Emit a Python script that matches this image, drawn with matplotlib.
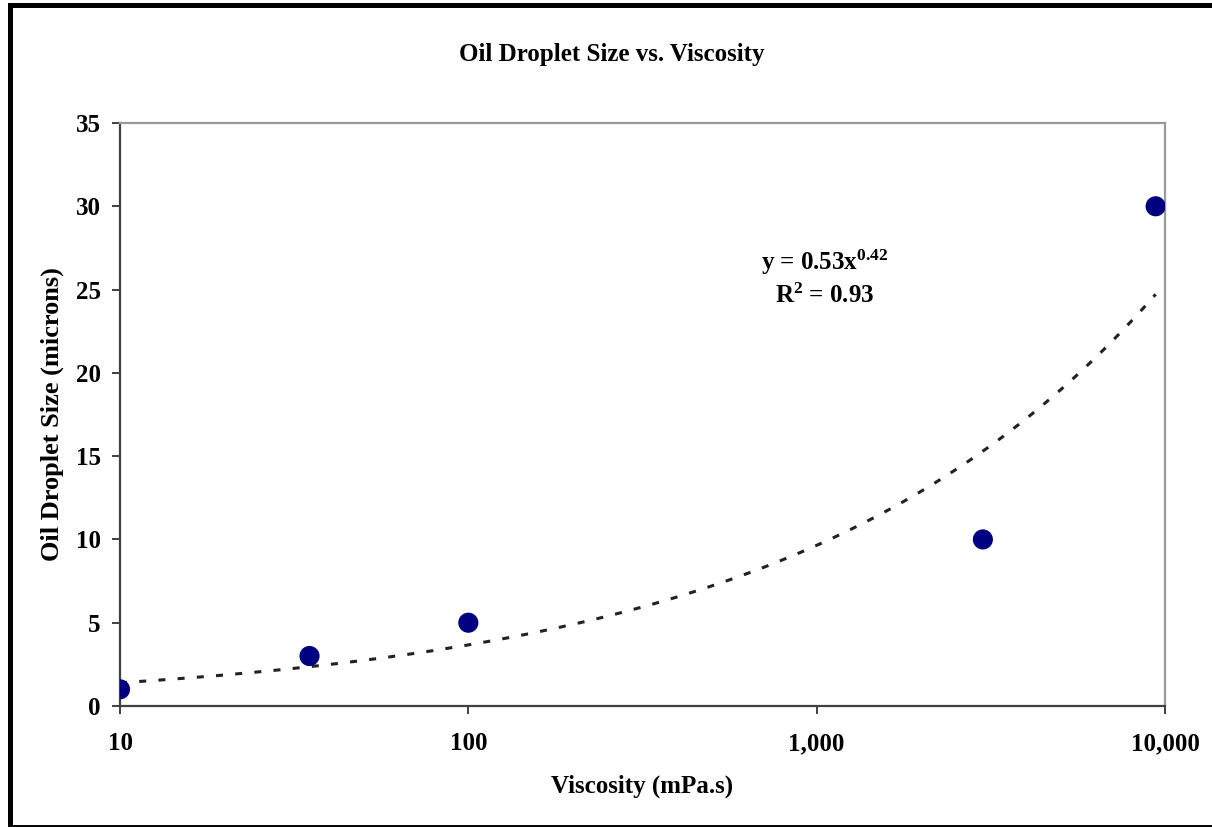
import matplotlib
matplotlib.use("Agg")
import numpy as np
import matplotlib.pyplot as plt
from matplotlib.lines import Line2D
from matplotlib.ticker import FixedLocator, FuncFormatter, NullLocator

# viscosity (mPa.s) and measured droplet size (microns)
viscosity = [10, 35, 100, 3000, 9400]
droplet_size = [1, 3, 5, 10, 30]

# power-law trendline y = a * x^b
fit_a = 0.53
fit_b = 0.42
fit_r2 = 0.93

x_ticks = [10, 100, 1000, 10000]
y_ticks = [0, 5, 10, 15, 20, 25, 30, 35]

plt.rcParams["font.family"] = ["Liberation Serif", "DejaVu Serif"]
plt.rcParams["font.weight"] = "bold"
plt.rcParams["mathtext.fontset"] = "custom"
plt.rcParams["mathtext.rm"] = "Liberation Serif:bold"
plt.rcParams["mathtext.it"] = "Liberation Serif:bold"
plt.rcParams["mathtext.bf"] = "Liberation Serif:bold"

W, H = 1212, 827
fig = plt.figure(figsize=(W / 100, H / 100), dpi=100)
ax = fig.add_axes([120 / W, 1 - 706 / H, (1165 - 120) / W, (706 - 123) / H])

# trendline over the data range
xs = np.logspace(np.log10(min(viscosity)), np.log10(max(viscosity)), 300)
ax.plot(xs, fit_a * xs ** fit_b, color="#222222", lw=2.2,
        ls=(0, (2.3, 4.0)), zorder=2)
ax.scatter(viscosity, droplet_size, s=210, color="#000080", zorder=3,
           edgecolors="none")

ax.set_xscale("log")
ax.set_xlim(10, 10000)
ax.set_ylim(0, 35)
ax.xaxis.set_major_locator(FixedLocator(x_ticks))
ax.xaxis.set_minor_locator(NullLocator())
ax.xaxis.set_major_formatter(FuncFormatter(lambda v, p: f"{v:,.0f}"))
ax.set_yticks(y_ticks)

for side in ("left", "bottom"):
    ax.spines[side].set_color("#404040")
    ax.spines[side].set_linewidth(1.6)
for side in ("top", "right"):
    ax.spines[side].set_color("#999999")
    ax.spines[side].set_linewidth(1.6)

ax.tick_params(axis="both", direction="out", length=6, width=1.4,
               color="#404040", labelsize=18)
ax.tick_params(axis="x", pad=13)
ax.tick_params(axis="y", pad=8)

ax.set_xlabel("Viscosity (mPa.s)", fontsize=18, fontweight="bold", labelpad=14)
ax.set_ylabel("Oil Droplet Size (microns)", fontsize=19, fontweight="bold",
              labelpad=8)

fig.text(612 / W, 1 - 55 / H, "Oil Droplet Size vs. Viscosity", fontsize=18,
         fontweight="bold", ha="center", va="center")

ax.text(825 / W, 1 - 262 / H, r"y = 0.53x$^{0.42}$", transform=fig.transFigure,
        fontsize=18, ha="center", va="center")
ax.text(825 / W, 1 - 296 / H, r"R$^{2}$ = 0.93", transform=fig.transFigure,
        fontsize=18, ha="center", va="center")

# outer chart frame: thick left/top edge, thin bottom edge
fig.add_artist(Line2D([10 / W, 10 / W], [0, 1 - 5 / H], color="black", lw=3.6,
                      transform=fig.transFigure, solid_capstyle="projecting"))
fig.add_artist(Line2D([10 / W, 1.02], [1 - 5 / H, 1 - 5 / H], color="black",
                      lw=3.6, transform=fig.transFigure))
fig.add_artist(Line2D([10 / W, 1.0], [1 - 826 / H, 1 - 826 / H], color="black",
                      lw=1.4, transform=fig.transFigure))

fig.savefig("out.png", dpi=100)
